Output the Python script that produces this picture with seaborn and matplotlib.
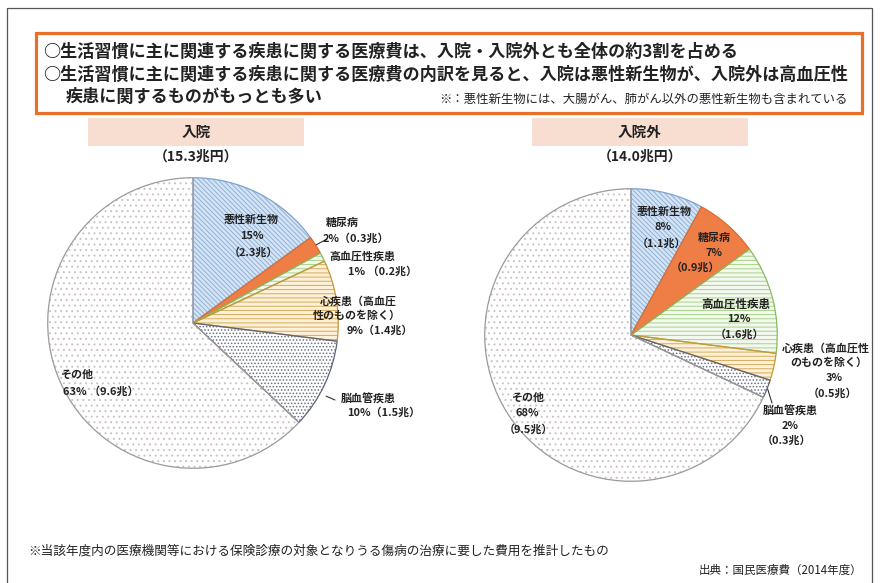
import numpy as np
import matplotlib
matplotlib.use("Agg")
import matplotlib.pyplot as plt
from matplotlib.patches import Rectangle
import seaborn as sns

# ---- data -------------------------------------------------------------
categories = ["悪性新生物", "糖尿病", "高血圧性疾患", "心疾患", "脳血管疾患", "その他"]
inpatient_pct = [15, 2, 1, 9, 10, 63]
inpatient_cost = [2.3, 0.3, 0.2, 1.4, 1.5, 9.6]
outpatient_pct = [8, 7, 12, 3, 2, 68]
outpatient_cost = [1.1, 0.9, 1.6, 0.5, 0.3, 9.5]
panel_titles = ["入院", "入院外"]
panel_totals = [15.3, 14.0]

headline_1 = "○生活習慣に主に関連する疾患に関する医療費は、入院・入院外とも全体の約3割を占める"
headline_2 = "○生活習慣に主に関連する疾患に関する医療費の内訳を見ると、入院は悪性新生物が、入院外は高血圧性"
headline_3 = "疾患に関するものがもっとも多い"
headline_note = "※：悪性新生物には、大腸がん、肺がん以外の悪性新生物も含まれている"
footnote = "※当該年度内の医療機関等における保険診療の対象となりうる傷病の治療に要した費用を推計したもの"
source = "出典：国民医療費（2014年度）"

# ---- style ------------------------------------------------------------
sns.set_theme(style="white")
plt.rcParams["font.family"] = ["Noto Sans CJK JP", "DejaVu Sans"]
plt.rcParams["hatch.linewidth"] = 0.7

# fill colour, hatch colour, hatch pattern, outline colour for each category
slice_styles = [
    dict(fc="#D5E4F4", hc="#8FB2DA", hatch="\\\\\\\\\\\\\\", oc="#7FA3D0"),
    dict(fc="#EE7E45", hc="#E0692C", hatch=None, oc="#E0692C"),
    dict(fc="#F3F9EE", hc="#A8D28A", hatch="----", oc="#86BC5E"),
    dict(fc="#FDF1DA", hc="#D8AA58", hatch="----", oc="#C9963A"),
    dict(fc="#FFFFFF", hc="#6A6F84", hatch=".....", oc="#5E6478"),
    dict(fc="#FFFFFF", hc="#CBC2C6", hatch="...", oc="#9C9A9C"),
]

W, H = 880, 583
fig = plt.figure(figsize=(W / 100, H / 100), dpi=100)
fig.patch.set_facecolor("white")

# background layer (pixel coordinates, y downwards)
bg = fig.add_axes([0, 0, 1, 1], zorder=0)
bg.set_xlim(0, W)
bg.set_ylim(H, 0)
bg.axis("off")

# overlay layer for text on top of the pies
ov = fig.add_axes([0, 0, 1, 1], zorder=5)
ov.set_xlim(0, W)
ov.set_ylim(H, 0)
ov.axis("off")
ov.patch.set_alpha(0)

TXT = "#222222"

# frames
bg.add_patch(Rectangle((7, 8), 865, 600, fill=False, ec="#555555", lw=0.9))
bg.add_patch(Rectangle((36, 33), 826, 80, fill=False, ec="#E8702A", lw=2.3))

ov.text(43, 52, headline_1, fontsize=12.3, fontweight="bold", color=TXT, va="center", ha="left")
ov.text(43, 75, headline_2, fontsize=12.3, fontweight="bold", color=TXT, va="center", ha="left")
ov.text(66, 97, headline_3, fontsize=12.3, fontweight="bold", color=TXT, va="center", ha="left")
ov.text(848, 99, headline_note, fontsize=8.9, color=TXT, va="center", ha="right")

ov.text(28, 551, footnote, fontsize=9.1, color=TXT, va="center", ha="left")
ov.text(862, 570, source, fontsize=8.3, color=TXT, va="center", ha="right")

# panel geometry: centre x of title, pie centre and radius (pixels)
panels = [
    dict(tx=196, cx=193, cy=323, r=146, pct=inpatient_pct, cost=inpatient_cost),
    dict(tx=640, cx=631, cy=335, r=147, pct=outpatient_pct, cost=outpatient_cost),
]

for i, p in enumerate(panels):
    bg.add_patch(Rectangle((p["tx"] - 108, 118), 216, 28, fc="#F8DED1", ec="none"))
    ov.text(p["tx"], 132, panel_titles[i], fontsize=10.5, fontweight="bold",
            color=TXT, ha="center", va="center")
    ov.text(p["tx"], 157, f"（{panel_totals[i]:.1f}兆円）", fontsize=10,
            fontweight="bold", color=TXT, ha="center", va="center")

    cx, cy, r = p["cx"], p["cy"], p["r"]
    ax = fig.add_axes([(cx - r) / W, (H - cy - r) / H, 2 * r / W, 2 * r / H], zorder=2)
    # filled, hatched wedges
    wedges, _ = ax.pie(p["pct"], startangle=90, counterclock=False, radius=1,
                       wedgeprops=dict(linewidth=0))
    for w, st in zip(wedges, slice_styles):
        w.set_facecolor(st["fc"])
        w.set_edgecolor(st["hc"])
        if st["hatch"]:
            w.set_hatch(st["hatch"])
    # outlines on top
    outlines, _ = ax.pie(p["pct"], startangle=90, counterclock=False, radius=1,
                         wedgeprops=dict(fill=False, linewidth=0.9))
    for w, st in zip(outlines, slice_styles):
        w.set_edgecolor(st["oc"])
    ax.set_xlim(-1.005, 1.005)
    ax.set_ylim(-1.005, 1.005)
    ax.axis("off")
    p["wedges"] = wedges


def rim_point(panel, idx, frac=0.5, scale=1.0):
    w = panel["wedges"][idx]
    ang = np.deg2rad(w.theta1 + (w.theta2 - w.theta1) * frac)
    rr = panel["r"] * scale
    return panel["cx"] + rr * np.cos(ang), panel["cy"] - rr * np.sin(ang)


def put(x, y, s, size=7.9):
    ov.text(x, y, s, fontsize=size, fontweight="bold", color=TXT, ha="center", va="center")


# ---- inpatient labels ----
pl, pc = inpatient_pct, inpatient_cost
put(251, 220, categories[0]); put(252, 236, f"{pl[0]}%"); put(253, 252, f"（{pc[0]}兆）")
put(342, 223, categories[1]); put(356, 238, f"{pl[1]}%（{pc[1]}兆）")
put(362, 256, categories[2]); put(383, 271, f"{pl[2]}% （{pc[2]}兆）")
put(358, 301, "心疾患（高血圧"); put(357, 316, "性のものを除く）"); put(380, 330, f"{pl[3]}%（{pc[3]}兆）")
put(368, 399, categories[4]); put(384, 412, f"{pl[4]}%（{pc[4]}兆）")
put(77, 375, categories[5]); put(101, 391, f"{pl[5]}% （{pc[5]}兆）")

x0, y0 = rim_point(panels[0], 1, 0.5, 1.0)
ov.plot([x0, 327], [y0, 239], color="#333333", lw=0.8)
x0, y0 = rim_point(panels[0], 4, 0.4, 1.04)
ov.plot([x0, 335], [y0, 400], color="#333333", lw=0.8)

# ---- outpatient labels ----
pl, pc = outpatient_pct, outpatient_cost
put(664, 212, categories[0]); put(663, 227, f"{pl[0]}%"); put(661, 243, f"（{pc[0]}兆）")
put(714, 238, categories[1]); put(714, 253, f"{pl[1]}%"); put(695, 267, f"（{pc[1]}兆）")
put(736, 304, categories[2], 8.3); put(739, 319, f"{pl[2]}%"); put(739, 334, f"（{pc[2]}兆）")
put(826, 348, "心疾患（高血圧性"); put(829, 363, "のものを除く）"); put(834, 378, f"{pl[3]}%"); put(832, 393, f"（{pc[3]}兆）")
put(790, 411, categories[4]); put(790, 426, f"{pl[4]}%"); put(786, 440, f"（{pc[4]}兆）")
put(528, 398, categories[5]); put(527, 413, f"{pl[5]}%"); put(528, 429, f"（{pc[5]}兆）")

x0, y0 = rim_point(panels[1], 4, 0.5, 1.0)
ov.plot([x0, 772], [y0, 403], color="#333333", lw=0.8)

fig.savefig("out.png", dpi=100, facecolor="white")
